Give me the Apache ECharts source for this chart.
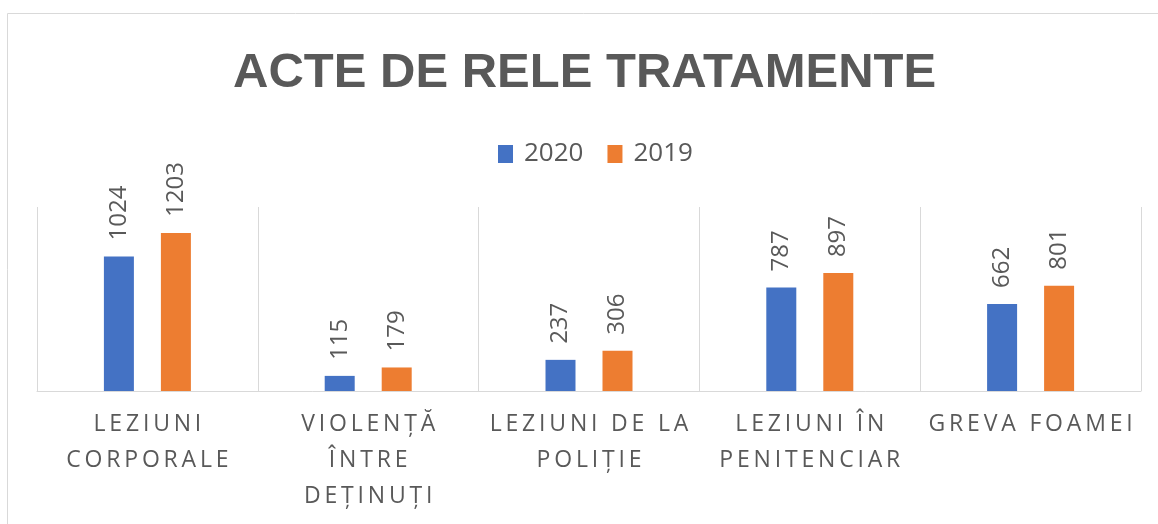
<!DOCTYPE html>
<html>
<head>
<meta charset="utf-8">
<script src="https://cdn.jsdelivr.net/npm/echarts@6/dist/echarts.min.js"></script>
<style>
  html, body { margin: 0; padding: 0; background: #fff; }
  #chart { width: 1158px; height: 524px; }
</style>
</head>
<body>
<div id="chart"></div>
<script>
// categories (line breaks as in the picture)
var categories = ['LEZIUNI\nCORPORALE', 'VIOLENȚĂ\nÎNTRE\nDEȚINUȚI', 'LEZIUNI DE LA\nPOLIȚIE', 'LEZIUNI ÎN\nPENITENCIAR', 'GREVA FOAMEI'];
var seriesNames = ['2020', '2019'];
var values2020 = [1024, 115, 237, 787, 662];
var values2019 = [1203, 179, 306, 897, 801];

var gray = '#595959';
var gridColor = '#d9d9d9';

// excel-like letter spacing, done with thin spaces
function spaced(s) {
  return s.split('\n').map(function (line) {
    return Array.from(line).join('\u2009');
  }).join('\n');
}

var chart = echarts.init(document.getElementById('chart'));

function barSeries(name, data, color) {
  return {
    name: name,
    type: 'bar',
    data: data,
    barWidth: 30,
    barGap: '90%',
    itemStyle: { color: color },
    label: {
      show: true,
      position: 'top',
      rotate: 90,
      align: 'left',
      verticalAlign: 'middle',
      distance: 16,
      color: gray,
      fontFamily: 'Open Sans',
      fontSize: 24
    }
  };
}

var option = {
  animation: false,
  title: {
    text: 'ACTE DE RELE TRATAMENTE',
    left: 228,
    top: 44,
    textStyle: {
      color: gray,
      fontFamily: 'Liberation Sans',
      fontWeight: 'bold',
      fontSize: 49
    }
  },
  legend: {
    data: seriesNames,
    left: 493,
    top: 136,
    icon: 'rect',
    itemWidth: 15,
    itemHeight: 18,
    itemGap: 24,
    textStyle: {
      color: gray,
      fontFamily: 'Open Sans',
      fontSize: 26,
      padding: [0, 0, 0, 6]
    }
  },
  graphic: [{
    type: 'rect',
    shape: { x: 7.5, y: 13.5, width: 1200, height: 600 },
    style: { fill: 'none', stroke: gridColor, lineWidth: 1 },
    silent: true
  }],
  grid: { left: 37, right: 17, top: 207, bottom: 133 },
  xAxis: {
    type: 'category',
    data: categories,
    axisLine: { lineStyle: { color: gridColor } },
    axisTick: { show: false },
    splitLine: { show: true, lineStyle: { color: gridColor } },
    axisLabel: {
      interval: 0,
      margin: 15,
      lineHeight: 36,
      color: gray,
      fontFamily: 'Open Sans',
      fontSize: 23,
      formatter: spaced
    }
  },
  yAxis: {
    type: 'value',
    min: 0,
    max: 1400,
    show: false,
    splitLine: { show: false }
  },
  series: [
    barSeries(seriesNames[0], values2020, '#4472c4'),
    barSeries(seriesNames[1], values2019, '#ed7d31')
  ]
};

chart.setOption(option);
</script>
</body>
</html>
